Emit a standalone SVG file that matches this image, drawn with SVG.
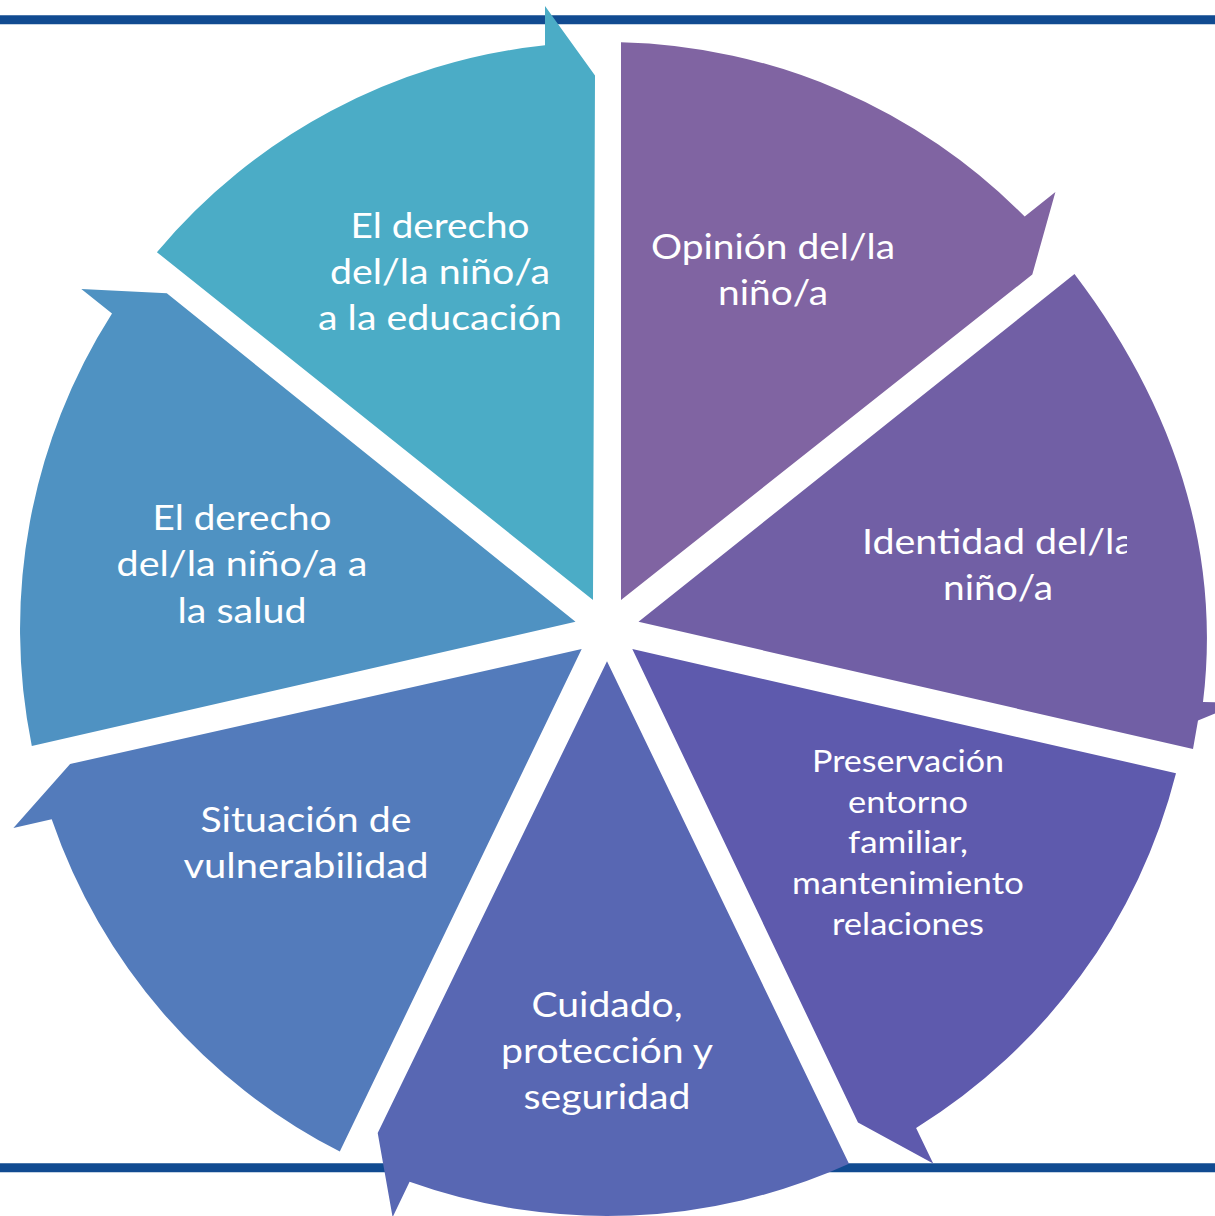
<svg xmlns="http://www.w3.org/2000/svg" width="1215" height="1216" viewBox="0 0 1215 1216">
<style>
.t{font-family:Lato,"Open Sans","Liberation Sans",sans-serif;font-size:35px;fill:#ffffff;text-anchor:middle}
.s{font-size:30px}
.rule{stroke:#114B91;stroke-width:9;fill:none}
</style>
<defs>
<clipPath id="clipId"><rect x="0" y="0" width="1127" height="1216"/></clipPath>
</defs>
<rect x="0" y="0" width="1215" height="1216" fill="#ffffff"/>
<g id="frame">
<line class="rule" x1="0" y1="19.7" x2="1215" y2="19.7"/>
<line class="rule" x1="0" y1="1167.8" x2="1215" y2="1167.8"/>
</g>
<g id="n-opinion">
<path fill="#8064A2" d="M621,599.9 L621,42.2 A587 587 0 0 1 1024.7,216.6 L1055.4,192.1 L1032.3,274.5 Z"/>
<text class="t"><tspan x="773" y="259" textLength="244" lengthAdjust="spacingAndGlyphs">Opinión del/la</tspan><tspan x="773" y="305" textLength="110" lengthAdjust="spacingAndGlyphs">niño/a</tspan></text>
</g>
<g id="n-identidad">
<path fill="#715FA5" d="M638.5,621.8 L1074.5,274.1 C1170,399.9 1222.2,545.1 1203,702 L1240,703 L1198,720.5 L1193,749 Z"/>
<text class="t" clip-path="url(#clipId)"><tspan x="998" y="554" textLength="272" lengthAdjust="spacingAndGlyphs">Identidad del/la</tspan></text>
<text class="t"><tspan x="998" y="600" textLength="110" lengthAdjust="spacingAndGlyphs">niño/a</tspan></text>
</g>
<g id="n-preservacion">
<path fill="#5E5AAD" d="M632.3,649.1 L1176,773.2 A587 587 0 0 1 916.1,1128 L933.2,1163.4 L858,1122.5 Z"/>
<text class="t s"><tspan x="908" y="772" textLength="192" lengthAdjust="spacingAndGlyphs">Preservación</tspan><tspan x="908" y="813" textLength="120" lengthAdjust="spacingAndGlyphs">entorno</tspan><tspan x="908" y="853" textLength="120" lengthAdjust="spacingAndGlyphs">familiar,</tspan><tspan x="908" y="894" textLength="232" lengthAdjust="spacingAndGlyphs">mantenimiento</tspan><tspan x="908" y="935" textLength="152" lengthAdjust="spacingAndGlyphs">relaciones</tspan></text>
</g>
<g id="n-cuidado">
<path fill="#5867B3" d="M607,661.3 L849,1163.8 A587 587 0 0 1 409.6,1181.8 L392.6,1217.2 L377.7,1132.9 Z"/>
<text class="t"><tspan x="607" y="1017" textLength="151" lengthAdjust="spacingAndGlyphs">Cuidado,</tspan><tspan x="607" y="1063" textLength="212" lengthAdjust="spacingAndGlyphs">protección y</tspan><tspan x="607" y="1109" textLength="167" lengthAdjust="spacingAndGlyphs">seguridad</tspan></text>
</g>
<g id="n-situacion">
<path fill="#537BBB" d="M581.7,649.1 L339.8,1151.6 A587 587 0 0 1 51.7,819.3 L13.4,828.1 L70.1,763.9 Z"/>
<text class="t"><tspan x="306" y="832" textLength="211" lengthAdjust="spacingAndGlyphs">Situación de</tspan><tspan x="306" y="878" textLength="245" lengthAdjust="spacingAndGlyphs">vulnerabilidad</tspan></text>
</g>
<g id="n-salud">
<path fill="#4F92C2" d="M575.5,621.8 L31.8,745.9 A587 587 0 0 1 112,313.5 L81.3,289 L166.8,293.3 Z"/>
<text class="t"><tspan x="242" y="530" textLength="179" lengthAdjust="spacingAndGlyphs">El derecho</tspan><tspan x="242" y="576" textLength="251" lengthAdjust="spacingAndGlyphs">del/la niño/a a</tspan><tspan x="242" y="623" textLength="129" lengthAdjust="spacingAndGlyphs">la salud</tspan></text>
</g>
<g id="n-educacion">
<path fill="#4BACC6" d="M593,599.9 L156.9,252.2 A587 587 0 0 1 545,45.3 L545,6 L595,75.5 Z"/>
<text class="t"><tspan x="440" y="238" textLength="179" lengthAdjust="spacingAndGlyphs">El derecho</tspan><tspan x="440" y="284" textLength="220" lengthAdjust="spacingAndGlyphs">del/la niño/a</tspan><tspan x="440" y="330" textLength="244" lengthAdjust="spacingAndGlyphs">a la educación</tspan></text>
</g>
<g id="connectors"/>
</svg>
